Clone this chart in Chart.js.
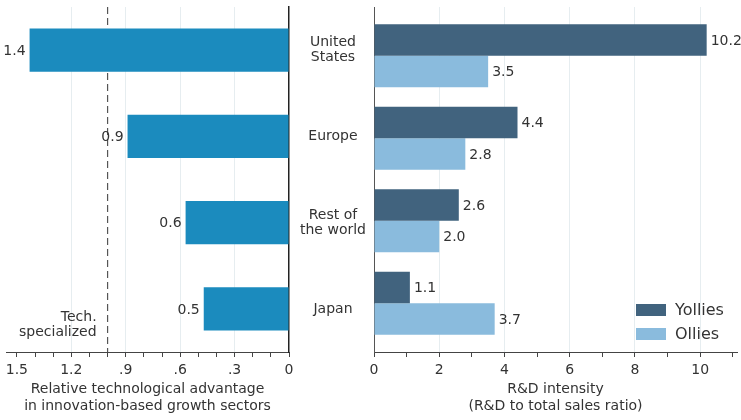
<!DOCTYPE html>
<html><head><meta charset="utf-8">
<script src="https://cdn.jsdelivr.net/npm/chart.js@4.4.1/dist/chart.umd.min.js"></script>
<style>
html,body{margin:0;padding:0;background:#fff;}
#wrap{position:relative;width:741px;height:420px;overflow:hidden;}
canvas{position:absolute;top:0;}
#c1{left:0;}
#c2{left:364px;}
</style></head><body>
<div id="wrap">
<canvas id="c1" width="374" height="420"></canvas>
<canvas id="c2" width="377" height="420"></canvas>
</div>
<script>
// ---- data ----
const categories = [["United", "States"], "Europe", ["Rest of", "the world"], "Japan"];
const rtaValues = [1.43, 0.89, 0.57, 0.47];
const yolliesValues = [10.2, 4.4, 2.6, 1.1];
const olliesValues = [3.5, 2.8, 2.0, 3.7];
const seriesNames = ["Yollies", "Ollies"];
const leftTickValues = [0, 0.1, 0.2, 0.3, 0.4, 0.5, 0.6, 0.7, 0.8, 0.9, 1.0, 1.1, 1.2, 1.3, 1.4, 1.5];
const leftMajorTicks = [0, 0.3, 0.6, 0.9, 1.2, 1.5];
const leftTickLabels = ["0", ".3", ".6", ".9", "1.2", "1.5"];
const rightTickValues = [0, 1, 2, 3, 4, 5, 6, 7, 8, 9, 10, 11];
const rightMajorTicks = [0, 2, 4, 6, 8, 10];
const rightTickLabels = ["0", "2", "4", "6", "8", "10"];
const thresholdValue = 1.0;
const thresholdLabel = ["Tech.", "specialized"];
const leftAxisTitle = ["Relative technological advantage", "in innovation-based growth sectors"];
const rightAxisTitle = ["R&D intensity", "(R&D to total sales ratio)"];

// ---- styles ----
const FONT = "'DejaVu Sans', sans-serif";
const TEXT = '#333333';
const C_RTA = '#1b8bbe';
const C_Y = '#41637e';
const C_O = '#8abbdd';
const GRID = '#e6edf0';
Chart.defaults.font.family = FONT;
Chart.defaults.font.size = 14;
Chart.defaults.color = TEXT;
Chart.defaults.animation = false;

const near = (a, b) => Math.abs(a - b) < 1e-6;
const labelFor = (majors, labels) => v => {
  const i = majors.findIndex(m => near(m, v));
  return i >= 0 ? labels[i] : '';
};
const gridFor = majors => ctx => {
  const v = ctx.tick ? ctx.tick.value : null;
  if (v === null || near(v, 0)) return 'rgba(0,0,0,0)';
  return majors.some(m => near(m, v)) ? GRID : 'rgba(0,0,0,0)';
};

const valueLabels = {
  id: 'valueLabels',
  afterDatasetsDraw(chart) {
    const ctx = chart.ctx;
    ctx.save();
    ctx.font = "14px " + FONT;
    ctx.fillStyle = TEXT;
    ctx.textBaseline = 'middle';
    chart.data.datasets.forEach((ds, di) => {
      chart.getDatasetMeta(di).data.forEach((bar, i) => {
        const toLeft = bar.x < bar.base;
        ctx.textAlign = toLeft ? 'right' : 'left';
        ctx.fillText(ds.data[i].toFixed(1), bar.x + (toLeft ? -4 : 4), bar.y + 1);
      });
    });
    ctx.restore();
  }
};

const thresholdPlugin = {
  id: 'threshold',
  beforeDatasetsDraw(chart) {
    const {ctx, chartArea, scales} = chart;
    const px = scales.x.getPixelForValue(thresholdValue);
    ctx.save();
    ctx.strokeStyle = '#555';
    ctx.lineWidth = 1.2;
    ctx.setLineDash([7, 4]);
    ctx.beginPath();
    ctx.moveTo(px, chartArea.top);
    ctx.lineTo(px, chartArea.bottom);
    ctx.stroke();
    ctx.setLineDash([]);
    ctx.fillStyle = TEXT;
    ctx.font = "14px " + FONT;
    ctx.textAlign = 'right';
    ctx.textBaseline = 'middle';
    thresholdLabel.forEach((t, i) => ctx.fillText(t, px - 11, chartArea.bottom - 34.5 + i * 15));
    ctx.restore();
  }
};

const legendPlugin = {
  id: 'boxLegend',
  afterDraw(chart) {
    const {ctx, chartArea} = chart;
    ctx.save();
    chart.data.datasets.forEach((ds, i) => {
      const y = chartArea.bottom - 48 + i * 24;
      ctx.fillStyle = ds.backgroundColor;
      ctx.fillRect(chartArea.right - 101, y, 30, 12);
      ctx.fillStyle = TEXT;
      ctx.font = "16px " + FONT;
      ctx.textAlign = 'left';
      ctx.textBaseline = 'middle';
      ctx.fillText(ds.label, chartArea.right - 62, y + 6.5);
    });
    ctx.restore();
  }
};

const noPad = s => { s.paddingTop = 0; s.paddingBottom = 0; };

// ---- left chart ----
new Chart(document.getElementById('c1'), {
  type: 'bar',
  data: {
    labels: categories,
    datasets: [{data: rtaValues, backgroundColor: C_RTA, borderWidth: 0, categoryPercentage: 1, barPercentage: 0.5}]
  },
  options: {
    responsive: false,
    indexAxis: 'y',
    layout: {padding: {top: 7, left: 6, right: 0, bottom: 0}},
    plugins: {legend: {display: false}, tooltip: {enabled: false}},
    scales: {
      x: {
        type: 'linear', reverse: true, min: 0, max: 1.56,
        afterBuildTicks: s => { s.ticks = leftTickValues.map(v => ({value: v})); },
        afterFit: s => { s.height = 68; s.paddingLeft = 0; s.paddingRight = 0; },
        ticks: {autoSkip: false, maxRotation: 0, padding: 5, color: TEXT, font: {size: 14},
                callback: labelFor(leftMajorTicks, leftTickLabels)},
        grid: {color: gridFor(leftMajorTicks.filter(v => v < 1.5)), tickColor: '#444', tickLength: 5, lineWidth: 1},
        border: {color: '#444', width: 1},
        title: {display: true, text: leftAxisTitle, color: TEXT, font: {size: 14, lineHeight: 1.15}, padding: {top: 0, bottom: 6}}
      },
      y: {
        position: 'right',
        afterFit: s => { s.width = 85; noPad(s); },
        grid: {display: false, drawTicks: false},
        border: {color: '#222', width: 1.5},
        ticks: {crossAlign: 'center', padding: 11, color: TEXT, font: {size: 14, lineHeight: 1.1}}
      }
    }
  },
  plugins: [thresholdPlugin, valueLabels]
});

// ---- right chart ----
const catPad = 0.09;
new Chart(document.getElementById('c2'), {
  type: 'bar',
  data: {
    labels: categories,
    datasets: [
      {label: seriesNames[0], data: yolliesValues, backgroundColor: C_Y, borderWidth: 0, categoryPercentage: 0.763, barPercentage: 1},
      {label: seriesNames[1], data: olliesValues, backgroundColor: C_O, borderWidth: 0, categoryPercentage: 0.763, barPercentage: 1}
    ]
  },
  options: {
    responsive: false,
    indexAxis: 'y',
    layout: {padding: {top: 7, left: 0, right: 4, bottom: 0}},
    plugins: {legend: {display: false}, tooltip: {enabled: false}},
    scales: {
      x: {
        type: 'linear', min: 0, max: 11.13,
        afterBuildTicks: s => { s.ticks = rightTickValues.map(v => ({value: v})); },
        afterFit: s => { s.height = 68; s.paddingLeft = 0; s.paddingRight = 0; },
        ticks: {autoSkip: false, maxRotation: 0, padding: 5, color: TEXT, font: {size: 14},
                callback: labelFor(rightMajorTicks, rightTickLabels)},
        grid: {color: gridFor(rightMajorTicks), tickColor: '#444', tickLength: 5, lineWidth: 1},
        border: {color: '#444', width: 1},
        title: {display: true, text: rightAxisTitle, color: TEXT, font: {size: 14, lineHeight: 1.15}, padding: {top: 0, bottom: 6}}
      },
      y: {
        afterFit: s => { s.width = 10; noPad(s); },
        afterBuildTicks: s => { s._startValue = -0.5 - catPad; s._valueRange = categories.length + 2 * catPad; },
        grid: {display: false, drawTicks: false},
        border: {color: '#555', width: 1},
        ticks: {display: false}
      }
    }
  },
  plugins: [valueLabels, legendPlugin]
});
</script>
</body></html>
